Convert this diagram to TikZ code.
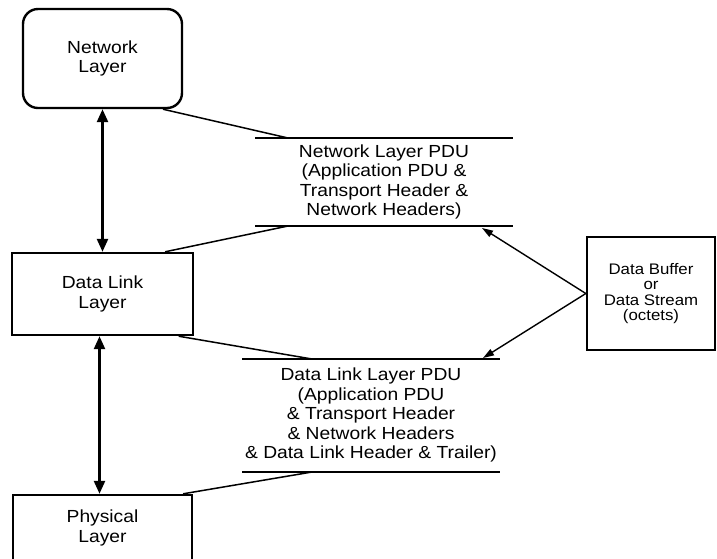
\documentclass[tikz,border=0pt]{standalone}
\usepackage{fontspec}
\setmainfont[FakeStretch=1.1]{Liberation Sans}
\usetikzlibrary{arrows.meta}

\begin{document}
\begin{tikzpicture}[x=1pt,y=-1pt,>={Triangle[length=13pt,width=11pt]},
    font=\fontsize{17.5}{19.5}\selectfont]
    \useasboundingbox (0,0) rectangle (717,558);
    \node[draw,line width=2.4pt,rounded corners=15pt,align=center,%
      minimum width=159pt,minimum height=99pt] (net) at (102.5,58.5) {Network\\Layer};
    \node[draw,line width=2.4pt,align=center,%
      minimum width=181pt,minimum height=82pt] (dll) at (102.5,294) {Data Link\\Layer};
    \node[draw,line width=2.4pt,align=center,%
      minimum width=179pt,minimum height=66pt] (phy) at (102.5,528) {Physical\\Layer};
    \node[draw,line width=2.4pt,align=center,font=\fontsize{15.3}{15.5}\selectfont,%
      minimum width=128pt,minimum height=113pt] (buf) at (651,293.5)
      {Data Buffer\\or\\Data Stream\\(octets)};
    % network layer PDU
    \node[align=center] (npdu) at (384,182)
      {Network Layer PDU\\(Application PDU \&\\Transport Header \&\\Network Headers)};
    \coordinate (npduTL) at (255,138);
    \coordinate (npduTR) at (513,138);
    \coordinate (npduBL) at (255,226);
    \coordinate (npduBR) at (513,226);
    \coordinate (npduT) at (288,138);
    \coordinate (npduB) at (288,226);
    \coordinate (npduIn) at (482,228);
    % data link layer PDU
    \node[align=center] (dpdu) at (371,415)
      {Data Link Layer PDU\\(Application PDU\\\& Transport Header\\\& Network Headers\\\& Data Link Header \& Trailer)};
    \coordinate (dpduTL) at (242,359);
    \coordinate (dpduTR) at (500,359);
    \coordinate (dpduBL) at (242,472);
    \coordinate (dpduBR) at (500,472);
    \coordinate (dpduT) at (312,359);
    \coordinate (dpduB) at (312,472);
    \coordinate (dpduIn) at (483,358);
    \draw[line width=2pt] (npduTL) -- (npduTR);
    \draw[line width=2pt] (npduBL) -- (npduBR);
    \draw[line width=2pt] (dpduTL) -- (dpduTR);
    \draw[line width=2pt] (dpduBL) -- (dpduBR);
    \draw[line width=1.5pt] (net.-40) -- (npduT);
    \draw[line width=1.5pt] (dll.34) -- (npduB);
    \draw[line width=1.5pt] (dll.-29) -- (dpduT);
    \draw[line width=1.5pt] (phy.23) -- (dpduB);
    \draw[<->,line width=2.5pt] (net) -- (dll);
    \draw[<->,line width=2.5pt] ([xshift=-3pt]dll.south) -- ([xshift=-3pt]phy.north);
    \draw[-{Triangle[length=11pt,width=7pt]},line width=1.4pt] (buf.west) -- (npduIn);
    \draw[-{Triangle[length=11pt,width=7pt]},line width=1.4pt] (buf.west) -- (dpduIn);
  \end{tikzpicture}
\end{document}
